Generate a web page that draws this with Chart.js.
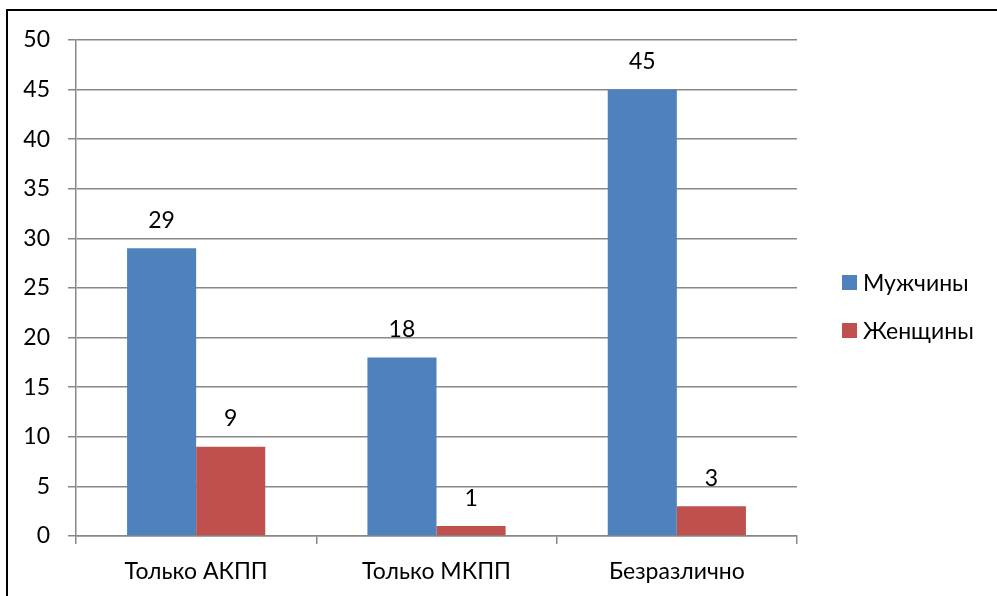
<!DOCTYPE html>
<html><head><meta charset="utf-8">
<script src="https://cdn.jsdelivr.net/npm/chart.js@4.4.1/dist/chart.umd.min.js"></script>
<style>
html,body{margin:0;padding:0;background:#fff;}
#wrap{position:relative;width:997px;height:596px;overflow:hidden;}
#frame{position:absolute;left:6px;top:9px;width:1000px;height:600px;border:2px solid #000;box-sizing:border-box;pointer-events:none;}
canvas{position:absolute;left:0;top:0;}
</style></head>
<body><div id="wrap"><canvas id="c" width="997" height="596"></canvas><div id="frame"></div></div>
<script>
const categories = ["Только АКПП", "Только МКПП", "Безразлично"];
const seriesNames = ["Мужчины", "Женщины"];
const men = [29, 18, 45];
const women = [9, 1, 3];
const yTicks = [0, 5, 10, 15, 20, 25, 30, 35, 40, 45, 50];

const FONT = "Lato, 'Noto Sans', 'DejaVu Sans', sans-serif";
const FS = 23;

const labelPlugin = {
  id: 'vals',
  afterDatasetsDraw(chart) {
    const ctx = chart.ctx;
    ctx.save();
    ctx.font = FS + "px " + FONT;
    ctx.fillStyle = "#000";
    ctx.textAlign = "center";
    ctx.textBaseline = "middle";
    chart.data.datasets.forEach((ds, i) => {
      chart.getDatasetMeta(i).data.forEach((bar, j) => {
        ctx.fillText(String(ds.data[j]), bar.x, bar.y - 28);
      });
    });
    ctx.restore();
  }
};
const legendPlugin = {
  id: 'legendR',
  afterDraw(chart) {
    const ctx = chart.ctx;
    ctx.save();
    ctx.font = FS + "px " + FONT;
    ctx.textBaseline = "middle";
    ctx.textAlign = "left";
    const x0 = chart.chartArea.right + 45;
    const ys = [282.5, 330.5];
    chart.data.datasets.forEach((ds, i) => {
      ctx.fillStyle = ds.backgroundColor;
      ctx.fillRect(x0, ys[i] - 7.5, 15, 15);
      ctx.fillStyle = "#000";
      ctx.fillText(ds.label, x0 + 21, ys[i] + 1);
    });
    ctx.restore();
  }
};

new Chart(document.getElementById('c'), {
  type: 'bar',
  data: {
    labels: categories,
    datasets: [
      { label: seriesNames[0], data: men, backgroundColor: "#4f81bd" },
      { label: seriesNames[1], data: women, backgroundColor: "#c0504d" }
    ]
  },
  plugins: [labelPlugin, legendPlugin],
  options: {
    responsive: false,
    animation: false,
    layout: { padding: { top: 40, right: 200, bottom: 0, left: 0 } },
    plugins: { legend: { display: false }, tooltip: { enabled: false } },
    datasets: { bar: { categoryPercentage: 0.575, barPercentage: 1.0 } },
    scales: {
      x: {
        offset: true,
        grid: { display: true, offset: true, drawOnChartArea: false, drawTicks: true, tickLength: 8, color: "#888", lineWidth: 1.5 },
        border: { display: true, color: "#888", width: 1.5 },
        ticks: { color: "#000", font: { family: FONT, size: FS }, padding: 14, maxRotation: 0 },
        afterFit(s) { s.height = 60; }
      },
      y: {
        min: 0, max: 50,
        afterBuildTicks(s) { s.ticks = yTicks.map(v => ({ value: v })); },
        grid: { color: "#888", lineWidth: 1.5, tickLength: 8, drawTicks: true },
        border: { display: true, color: "#888", width: 1.5 },
        ticks: { color: "#000", font: { family: FONT, size: FS }, padding: 18 },
        afterFit(s) { s.width = 76; }
      }
    }
  }
});
</script></body></html>
